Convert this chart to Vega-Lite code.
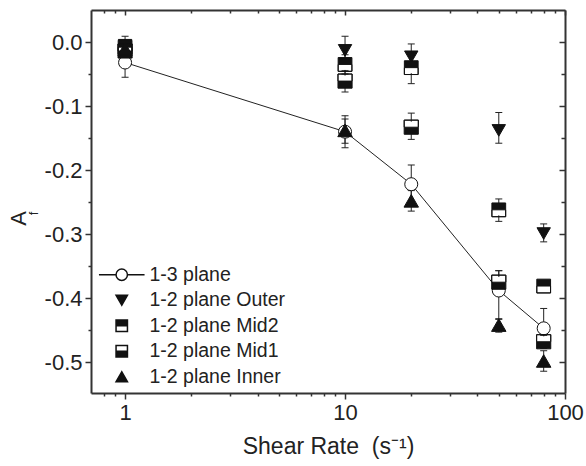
{
  "$schema": "https://vega.github.io/schema/vega-lite/v6.json",
  "width": 474,
  "height": 383,
  "autosize": {"type": "none"},
  "padding": {"left": 91, "top": 10, "right": 21, "bottom": 73},
  "background": "white",
  "config": {
    "view": {"stroke": null},
    "font": "Liberation Sans",
    "axis": {
      "domainColor": "#333",
      "domainWidth": 2,
      "tickColor": "#333",
      "tickWidth": 1.5,
      "grid": false,
      "labelColor": "#222",
      "titleColor": "#222",
      "labelFont": "Liberation Sans",
      "titleFont": "Liberation Sans",
      "titleFontWeight": "normal",
      "labelFontSize": 22,
      "titleFontSize": 23
    }
  },
  "datasets": {
    "pts": [
      {"rate": 1, "series": "1-3 plane", "af": -0.032, "lo": -0.055, "hi": -0.009},
      {"rate": 10, "series": "1-3 plane", "af": -0.140, "lo": -0.165, "hi": -0.115},
      {"rate": 20, "series": "1-3 plane", "af": -0.222, "lo": -0.252, "hi": -0.192},
      {"rate": 50, "series": "1-3 plane", "af": -0.388, "lo": -0.433, "hi": -0.357},
      {"rate": 80, "series": "1-3 plane", "af": -0.447, "lo": -0.478, "hi": -0.416},
      {"rate": 1, "series": "1-2 plane Outer", "af": -0.005, "lo": -0.017, "hi": 0.009},
      {"rate": 10, "series": "1-2 plane Outer", "af": -0.013, "lo": -0.035, "hi": 0.009},
      {"rate": 20, "series": "1-2 plane Outer", "af": -0.023, "lo": -0.043, "hi": -0.003},
      {"rate": 50, "series": "1-2 plane Outer", "af": -0.138, "lo": -0.158, "hi": -0.110},
      {"rate": 80, "series": "1-2 plane Outer", "af": -0.299, "lo": -0.312, "hi": -0.284},
      {"rate": 1, "series": "1-2 plane Mid2", "af": -0.008, "lo": -0.016, "hi": 0.000},
      {"rate": 10, "series": "1-2 plane Mid2", "af": -0.035, "lo": -0.050, "hi": -0.020},
      {"rate": 20, "series": "1-2 plane Mid2", "af": -0.040, "lo": -0.065, "hi": -0.020},
      {"rate": 50, "series": "1-2 plane Mid2", "af": -0.262, "lo": -0.280, "hi": -0.245},
      {"rate": 80, "series": "1-2 plane Mid2", "af": -0.381, "lo": -0.386, "hi": -0.376},
      {"rate": 1, "series": "1-2 plane Mid1", "af": -0.014, "lo": -0.022, "hi": -0.006},
      {"rate": 10, "series": "1-2 plane Mid1", "af": -0.061, "lo": -0.078, "hi": -0.044},
      {"rate": 20, "series": "1-2 plane Mid1", "af": -0.133, "lo": -0.152, "hi": -0.111},
      {"rate": 50, "series": "1-2 plane Mid1", "af": -0.375, "lo": -0.392, "hi": -0.357},
      {"rate": 80, "series": "1-2 plane Mid1", "af": -0.468, "lo": -0.478, "hi": -0.458},
      {"rate": 1, "series": "1-2 plane Inner", "af": -0.011, "lo": -0.020, "hi": -0.002},
      {"rate": 10, "series": "1-2 plane Inner", "af": -0.138, "lo": -0.158, "hi": -0.120},
      {"rate": 20, "series": "1-2 plane Inner", "af": -0.248, "lo": -0.264, "hi": -0.232},
      {"rate": 50, "series": "1-2 plane Inner", "af": -0.442, "lo": -0.453, "hi": -0.432},
      {"rate": 80, "series": "1-2 plane Inner", "af": -0.498, "lo": -0.514, "hi": -0.482}
    ]
  },
  "data": {"name": "pts"},
  "layer": [
    {
      "transform": [{"filter": "datum.series === '1-3 plane'"}],
      "mark": {"type": "line", "color": "#222", "strokeWidth": 1},
      "encoding": {
        "x": {
          "field": "rate", "type": "quantitative",
          "scale": {"type": "log", "domain": [0.7, 100], "nice": false},
          "axis": {
            "orient": "bottom",
            "values": [0.8, 0.9, 1, 2, 3, 4, 5, 6, 7, 8, 9, 10, 20, 30, 40, 50, 60, 70, 80, 90, 100],
            "labelExpr": "indexof([1,10,100], datum.value) >= 0 ? format(datum.value, 'd') : ''",
            "tickSize": {"condition": {"test": "indexof([1,10,100], datum.value) >= 0", "value": 6}, "value": 3},
            "labelPadding": 3,
            "labelFlush": false,
            "labelOverlap": false,
            "title": "Shear Rate\u00a0 (s⁻¹)",
            "titlePadding": 12
          }
        },
        "y": {
          "field": "af", "type": "quantitative",
          "scale": {"domain": [-0.548, 0.05], "nice": false, "zero": false},
          "axis": {
            "orient": "left",
            "values": [0, -0.05, -0.1, -0.15, -0.2, -0.25, -0.3, -0.35, -0.4, -0.45, -0.5],
            "labelExpr": "abs(datum.value*10 - round(datum.value*10)) < 0.001 ? replace(format(datum.value, '.1f'), '\u2212', '-') : ''",
            "tickSize": {"condition": {"test": "abs(datum.value*10 - round(datum.value*10)) < 0.001", "value": 6}, "value": 3},
            "labelPadding": 3,
            "labelFlush": false,
            "labelOverlap": false,
            "title": "A",
            "titleFontSize": 22,
            "titleAngle": -90,
            "titleX": -73,
            "titleY": 208,
            "titleAlign": "center",
            "titleBaseline": "middle"
          }
        }
      }
    },
    {
      "mark": {"type": "rule", "color": "#222", "strokeWidth": 1},
      "encoding": {
        "x": {"field": "rate", "type": "quantitative", "axis": null},
        "y": {"field": "lo", "type": "quantitative", "axis": null},
        "y2": {"field": "hi"}
      }
    },
    {
      "mark": {"type": "tick", "orient": "horizontal", "size": 7, "thickness": 1, "color": "#222", "opacity": 1},
      "encoding": {
        "x": {"field": "rate", "type": "quantitative", "axis": null},
        "y": {"field": "lo", "type": "quantitative", "axis": null}
      }
    },
    {
      "mark": {"type": "tick", "orient": "horizontal", "size": 7, "thickness": 1, "color": "#222", "opacity": 1},
      "encoding": {
        "x": {"field": "rate", "type": "quantitative", "axis": null},
        "y": {"field": "hi", "type": "quantitative", "axis": null}
      }
    },
    {
      "transform": [{"filter": "indexof(datum.series, 'Mid') >= 0"}],
      "mark": {"type": "point", "shape": "square", "filled": true, "fill": "white", "size": 121, "strokeWidth": 0, "opacity": 1},
      "encoding": {
        "x": {"field": "rate", "type": "quantitative", "axis": null},
        "y": {"field": "af", "type": "quantitative", "axis": null}
      }
    },
    {
      "mark": {"type": "point", "filled": true, "stroke": "#111", "strokeWidth": 1, "opacity": 1},
      "encoding": {
        "x": {
          "field": "rate", "type": "quantitative",
          "axis": {
            "orient": "top",
            "values": [0.8, 0.9, 1, 2, 3, 4, 5, 6, 7, 8, 9, 10, 20, 30, 40, 50, 60, 70, 80, 90, 100],
            "labels": false,
            "title": null,
            "tickSize": {"condition": {"test": "indexof([1,10,100], datum.value) >= 0", "value": -5}, "value": -3}
          }
        },
        "y": {
          "field": "af", "type": "quantitative",
          "axis": {
            "orient": "right",
            "values": [0, -0.05, -0.1, -0.15, -0.2, -0.25, -0.3, -0.35, -0.4, -0.45, -0.5],
            "labels": false,
            "tickSize": {"condition": {"test": "abs(datum.value*10 - round(datum.value*10)) < 0.001", "value": -6}, "value": -4},
            "title": "f",
            "titleFontSize": 13,
            "titleAngle": -90,
            "titleX": -532,
            "titleY": 203,
            "titleAlign": "center",
            "titleBaseline": "middle"
          }
        },
        "shape": {
          "field": "series", "type": "nominal",
          "scale": {
            "domain": ["1-3 plane", "1-2 plane Outer", "1-2 plane Mid2", "1-2 plane Mid1", "1-2 plane Inner"],
            "range": ["circle", "triangle-down", "M-1,-1H1V0H-1Z M-1,0V1H1V0V1H-1Z", "M-1,0H1V1H-1Z M-1,0V-1H1V0V-1H-1Z", "triangle-up"]
          },
          "legend": null
        },
        "fill": {
          "field": "series", "type": "nominal",
          "scale": {
            "domain": ["1-3 plane", "1-2 plane Outer", "1-2 plane Mid2", "1-2 plane Mid1", "1-2 plane Inner"],
            "range": ["white", "#111", "#111", "#111", "#111"]
          },
          "legend": null
        },
        "size": {
          "field": "series", "type": "nominal",
          "scale": {
            "domain": ["1-3 plane", "1-2 plane Outer", "1-2 plane Mid2", "1-2 plane Mid1", "1-2 plane Inner"],
            "range": [169, 210, 121, 121, 210]
          },
          "legend": null
        }
      }
    },
    {
      "transform": [{"filter": "false"}],
      "mark": {"type": "point", "filled": true, "stroke": "#111", "strokeWidth": 1, "opacity": 1},
      "encoding": {
        "shape": {
          "field": "series", "type": "nominal",
          "scale": {
            "domain": ["1-3 plane", "1-2 plane Outer", "1-2 plane Mid2", "1-2 plane Mid1", "1-2 plane Inner"],
            "range": ["M-1,0A1,1 0 1,1 1,0A1,1 0 1,1 -1,0Z M-4,0H-1 M1,0H4", "triangle-down", "M-1,-1H1V0H-1Z M-1,0V1H1V0V1H-1Z", "M-1,0H1V1H-1Z M-1,0V-1H1V0V-1H-1Z", "triangle-up"]
          },
          "legend": {
            "orient": "none", "legendX": 21, "legendY": 255, "title": null,
            "labelFontSize": 19.5, "labelFont": "Liberation Sans", "labelColor": "#222",
            "symbolSize": 130, "rowPadding": 4.5, "labelOffset": 18, "padding": 0,
            "symbolOpacity": 1,
            "encode": {"symbols": {"update": {"stroke": {"value": "#111"}, "strokeWidth": {"value": 1}}}}
          }
        },
        "fill": {
          "field": "series", "type": "nominal",
          "scale": {
            "domain": ["1-3 plane", "1-2 plane Outer", "1-2 plane Mid2", "1-2 plane Mid1", "1-2 plane Inner"],
            "range": ["white", "#111", "#111", "#111", "#111"]
          },
          "legend": {
            "orient": "none", "legendX": 21, "legendY": 255, "title": null,
            "labelFontSize": 19.5, "labelFont": "Liberation Sans", "labelColor": "#222",
            "symbolSize": 130, "rowPadding": 4.5, "labelOffset": 18, "padding": 0,
            "symbolOpacity": 1,
            "encode": {"symbols": {"update": {"stroke": {"value": "#111"}, "strokeWidth": {"value": 1}}}}
          }
        }
      }
    }
  ],
  "resolve": {
    "axis": {"x": "independent", "y": "independent"},
    "scale": {"shape": "independent", "fill": "independent"}
  }
}
